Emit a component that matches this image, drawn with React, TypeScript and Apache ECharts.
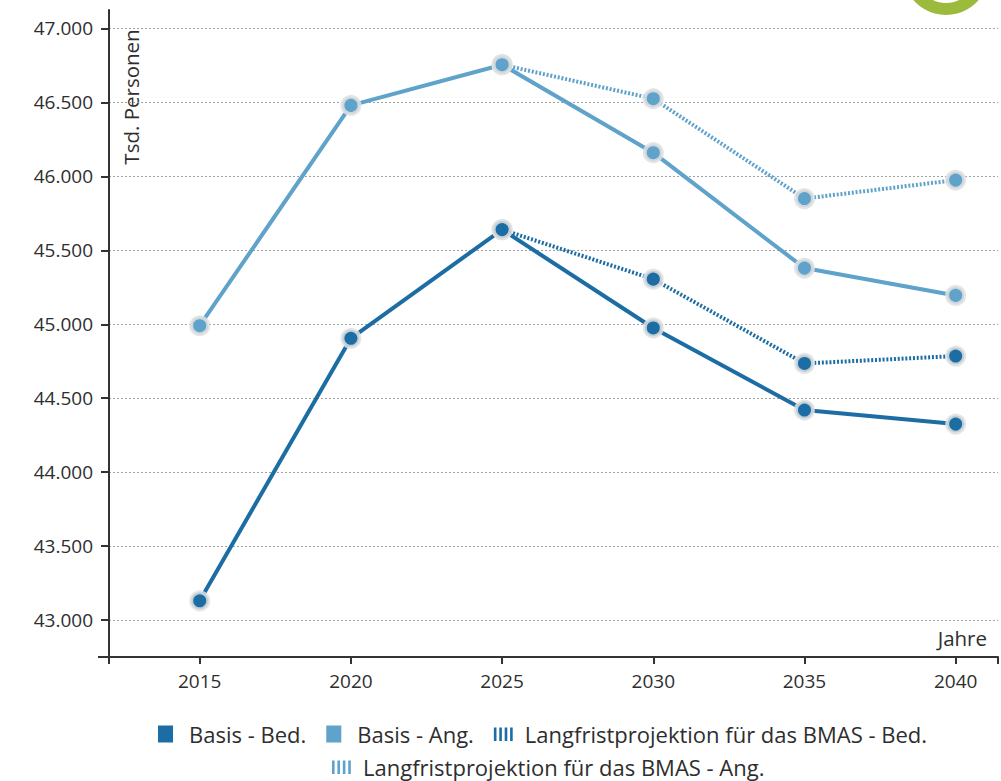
import React, { useEffect, useRef } from "react";
import * as echarts from "echarts";

const years = [2015, 2020, 2025, 2030, 2035, 2040];
const basisBed = [43130, 44905, 45640, 44975, 44420, 44325];
const basisAng = [44990, 46480, 46755, 46160, 45380, 45195];
const lfpBed = [null, null, 45640, 45305, 44735, 44785];
const lfpAng = [null, null, 46755, 46525, 45850, 45975];
const yTicks = [43000, 43500, 44000, 44500, 45000, 45500, 46000, 46500, 47000];
const names = [
  "Basis - Bed.",
  "Basis - Ang.",
  "Langfristprojektion für das BMAS - Bed.",
  "Langfristprojektion für das BMAS - Ang.",
];

const DARK = "#1c6da3";
const LIGHT = "#5fa2ca";
const FONT = "Open Sans";
const TEXT = "#2e2e2e";

const pairs = (vals: (number | null)[]) =>
  years.map((y, i) => [y, vals[i]]).filter((p) => p[1] !== null);

const fmt = (v: number) => String(Math.round(v)).replace(/\B(?=(\d{3})+(?!\d))/g, ".");

const SQUARE = "path://M0,0h15v17h-15z M25.9,16.95h0.05v0.05h-0.05z";
const STRIPES =
  "path://M0,0.05h0.05v-0.05h-0.05z M0,2h2.6v13.5h-2.6z M5.4,2h2.6v13.5h-2.6z M10.8,2h2.6v13.5h-2.6z M16.2,2h2.6v13.5h-2.6z M25.9,16.95h0.05v0.05h-0.05z";

export default function App() {
  const ref = useRef<HTMLDivElement>(null);
  useEffect(() => {
    const chart = echarts.init(ref.current!, null, { renderer: "svg" });
    const mkSeries = (name: string, data: any[], color: string, dashed: boolean, z: number) => ({
      name,
      type: "line",
      data,
      symbol: "circle",
      symbolSize: 17,
      showSymbol: true,
      z,
      color,
      lineStyle: { width: 4, color, type: dashed ? [2, 1.8] : "solid", cap: "butt" },
      itemStyle: { color, borderColor: "rgba(225,225,225,0.85)", borderWidth: 4 },
      emphasis: { disabled: true },
    });
    const legendCommon = {
      orient: "horizontal",
      itemWidth: 26,
      itemHeight: 17,
      itemGap: 20,
      selectedMode: false,
      symbolKeepAspect: false,
      itemStyle: { borderWidth: 0 },
      textStyle: { fontFamily: FONT, fontSize: 22, color: TEXT },
    };
    chart.setOption({
      animation: false,
      grid: { left: 109, right: 3, top: 10, bottom: 124, containLabel: false },
      legend: [
        {
          ...legendCommon,
          left: 153,
          top: 718,
          data: [
            { name: names[0], icon: SQUARE },
            { name: names[1], icon: SQUARE },
            { name: names[2], icon: STRIPES },
          ],
        },
        {
          ...legendCommon,
          left: 327,
          top: 751,
          data: [{ name: names[3], icon: STRIPES }],
        },
      ],
      xAxis: {
        type: "value",
        min: 2012,
        max: 2041.4,
        axisLine: { show: true, lineStyle: { color: "#333", width: 2 } },
        axisTick: {
          show: true,
          length: 7,
          lineStyle: { color: "#333", width: 2 },
          customValues: [2012, ...years, 2041.4],
        },
        axisLabel: {
          customValues: years,
          formatter: (v: number) => String(v),
          fontFamily: FONT,
          fontSize: 19,
          color: TEXT,
          margin: 14,
        },
        splitLine: { show: false },
      },
      yAxis: {
        type: "value",
        min: 42750,
        max: 47125,
        axisLine: { show: true, lineStyle: { color: "#333", width: 2 } },
        axisTick: {
          show: true,
          length: 8,
          lineStyle: { color: "#333", width: 2 },
          customValues: yTicks,
        },
        axisLabel: {
          customValues: yTicks,
          formatter: (v: number) => fmt(v),
          fontFamily: FONT,
          fontSize: 19,
          color: TEXT,
          margin: 16,
        },
        splitLine: {
          show: true,
          customValues: yTicks,
          lineStyle: { color: "#a0a0a0", type: [2, 2], width: 1 },
        },
      },
      series: [
        mkSeries(names[0], pairs(basisBed), DARK, false, 2),
        mkSeries(names[1], pairs(basisAng), LIGHT, false, 2),
        mkSeries(names[2], pairs(lfpBed), DARK, true, 3),
        mkSeries(names[3], pairs(lfpAng), LIGHT, true, 3),
      ],
      graphic: [
        {
          type: "ring",
          shape: { cx: 946, cy: -28, r: 43, r0: 31 },
          style: { fill: "#9cba3c" },
        },
        {
          type: "text",
          x: 131,
          y: 97,
          rotation: Math.PI / 2,
          style: {
            text: "Tsd. Personen",
            fontFamily: FONT,
            fontSize: 20.5,
            fill: TEXT,
            align: "center",
            verticalAlign: "middle",
          },
        },
        {
          type: "text",
          x: 987,
          y: 638,
          style: {
            text: "Jahre",
            fontFamily: FONT,
            fontSize: 20.5,
            fill: TEXT,
            align: "right",
            verticalAlign: "middle",
          },
        },
        {
          type: "line",
          shape: { x1: 98, y1: 657, x2: 110, y2: 657 },
          style: { stroke: "#333", lineWidth: 2 },
        },
      ],
    });
    return () => chart.dispose();
  }, []);
  return (
    <div
      ref={ref}
      style={{ position: "absolute", left: 0, top: 0, width: 1001, height: 781, background: "#fff" }}
    />
  );
}
